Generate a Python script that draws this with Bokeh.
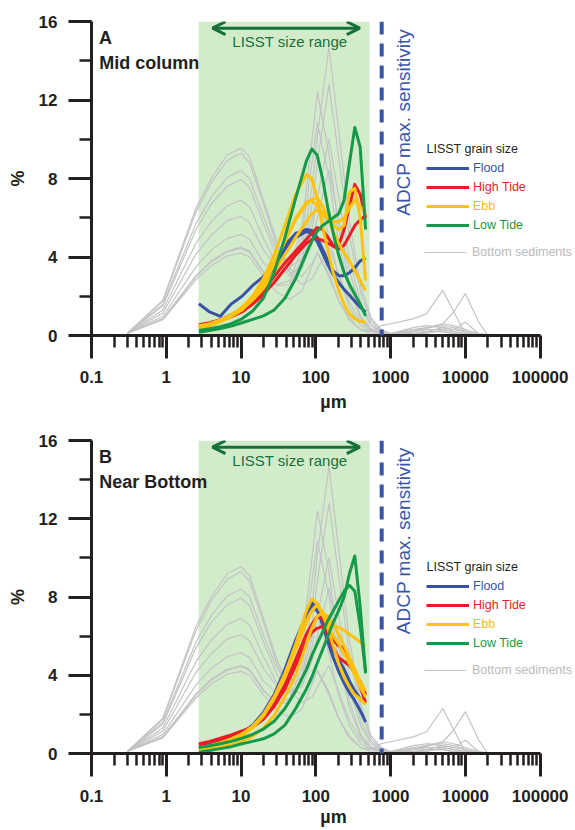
import math
from bokeh.plotting import figure
from bokeh.models import (Range1d, FixedTicker, SingleIntervalTicker, NumeralTickFormatter,
                          Legend, LegendItem, Label, Arrow, OpenHead, BoxAnnotation, Span)
from bokeh.layouts import column
from bokeh.embed import file_html
from bokeh.resources import INLINE

# ---------------- data ----------------
X_TICKS = [0.1, 1, 10, 100, 1000, 10000, 100000]
X_MINOR = [m * 10.0 ** e for e in range(-1, 5) for m in range(2, 10)]
LISST_MIN, LISST_MAX = 2.7, 525        # LISST size range (um)
ADCP_MAX = 760                          # ADCP max. sensitivity (um)

# bottom sediment grain size distributions (same in both panels)
GX = [0.3, 0.9, 2.5, 4, 6.5, 10, 13, 20, 30, 45, 65, 90, 105, 150, 200, 280, 400, 550,
      750, 1000, 2000, 3000, 5000, 7000, 10000, 15000, 20000, 30000]
SED = [
    [0.1, 1.8, 6.5, 8.0, 9.2, 9.55, 9.1, 6.9, 4.8, 3.4, 3.0, 3.7, 4.2, 3.0, 1.8, 0.8, 0.3, 0.2, 0.5, 0.6, 0.85, 1.1, 2.3, 1.2, 0.1, 0.02, 0.0, 0.0],
    [0.1, 1.75, 6.3, 7.8, 8.9, 9.3, 8.8, 6.7, 4.6, 3.2, 2.6, 2.9, 3.4, 4.5, 3.2, 1.7, 0.7, 0.25, 0.1, 0.1, 0.3, 0.4, 0.5, 0.4, 0.2, 0.05, 0.0, 0.0],
    [0.1, 1.6, 5.7, 7.05, 8.05, 8.4, 8.0, 6.05, 4.35, 3.5, 3.9, 6.0, 7.0, 5.1, 3.05, 1.45, 0.5, 0.2, 0.1, 0.1, 0.2, 0.35, 0.6, 1.2, 2.14, 0.7, 0.0, 0.0],
    [0.1, 1.5, 5.4, 6.7, 7.6, 7.95, 7.55, 5.7, 4.05, 3.2, 3.4, 4.8, 6.05, 8.45, 6.0, 3.3, 1.4, 0.5, 0.15, 0.1, 0.4, 0.5, 0.4, 0.3, 0.68, 0.1, 0.0, 0.0],
    [0.1, 1.3, 4.7, 5.8, 6.6, 6.9, 6.55, 4.95, 3.6, 3.05, 3.6, 5.5, 7.05, 10.0, 7.15, 3.95, 1.65, 0.6, 0.2, 0.05, 0.2, 0.3, 0.3, 0.2, 0.1, 0.0, 0.0, 0.0],
    [0.1, 1.15, 4.15, 5.1, 5.85, 6.07, 5.75, 4.35, 3.45, 3.4, 5.0, 8.95, 10.85, 8.05, 4.8, 2.35, 0.85, 0.3, 0.1, 0.05, 0.3, 0.2, 0.4, 0.3, 0.2, 0.0, 0.0, 0.0],
    [0.1, 0.98, 3.5, 4.35, 4.95, 5.15, 4.9, 3.7, 3.1, 3.35, 5.5, 10.15, 12.4, 9.25, 5.55, 2.7, 0.95, 0.35, 0.12, 0.05, 0.1, 0.2, 0.2, 0.1, 0.05, 0.0, 0.0, 0.0],
    [0.1, 0.86, 3.05, 3.8, 4.3, 4.5, 4.3, 3.25, 2.55, 2.6, 3.9, 6.75, 8.85, 12.8, 9.2, 5.1, 2.15, 0.75, 0.25, 0.1, 0.1, 0.1, 0.3, 0.2, 0.1, 0.05, 0.02, 0.0],
    [0.1, 0.85, 3.0, 3.75, 4.25, 4.45, 4.25, 3.2, 2.6, 2.8, 4.4, 7.7, 10.2, 14.7, 10.6, 5.85, 2.5, 0.9, 0.3, 0.1, 0.1, 0.2, 0.2, 0.1, 0.05, 0.02, 0.02, 0.02],
    [0.1, 0.8, 2.85, 3.55, 4.05, 4.2, 4.0, 3.0, 2.2, 1.85, 2.25, 3.6, 4.25, 3.15, 1.85, 0.9, 0.3, 0.1, 0.05, 0.05, 0.2, 0.4, 0.6, 0.5, 0.3, 0.1, 0.05, 0.05],
]

# LISST size bins (um)
LX = [2.73, 3.80, 5.29, 7.37, 10.3, 14.3, 19.9, 27.7, 38.6, 53.8, 74.9, 88.3, 104, 123,
      145, 171, 202, 239, 282, 332, 392, 463]

# Panel A: mid column
FLOOD_A = [
    [1.62, 1.2, 0.98, 1.6, 2.0, 2.55, 3.0, 3.65, 4.6, 5.2, 5.4, 5.35, 5.0, 4.4, 3.8, 3.3, 3.05, 3.05, 3.2, 3.45, 3.8, 3.95],
    [0.45, 0.6, 0.8, 1.05, 1.4, 1.9, 2.6, 3.5, 4.4, 5.0, 5.3, 5.2, 4.8, 4.2, 3.6, 3.1, 2.7, 2.35, 2.05, 1.75, 1.45, 1.2],
]
HIGH_A = [
    [0.55, 0.65, 0.8, 1.0, 1.3, 1.75, 2.3, 3.0, 3.7, 4.3, 4.9, 5.2, 5.5, 5.4, 5.0, 4.6, 4.6, 5.4, 6.6, 7.7, 7.2, 6.0],
    [0.5, 0.6, 0.75, 0.95, 1.2, 1.6, 2.1, 2.7, 3.4, 4.1, 4.7, 4.9, 4.95, 4.85, 4.7, 4.55, 4.4, 4.6, 5.1, 5.6, 5.9, 6.1],
]
EBB_A = [
    [0.4, 0.55, 0.75, 1.0, 1.4, 2.0, 2.9, 4.1, 5.6, 7.2, 8.2, 8.0, 7.0, 5.6, 4.3, 3.2, 2.3, 1.6, 1.1, 0.85, 0.72, 0.68],
    [0.35, 0.5, 0.7, 0.95, 1.3, 1.85, 2.6, 3.6, 4.8, 6.0, 6.8, 6.9, 6.6, 6.2, 5.9, 5.6, 5.4, 5.6, 7.3, 7.5, 6.0, 2.8],
    [0.5, 0.6, 0.8, 1.0, 1.35, 1.8, 2.4, 3.2, 4.1, 5.0, 5.8, 6.2, 6.4, 6.3, 6.0, 5.8, 5.8, 6.0, 6.5, 6.9, 6.6, 6.2],
    [0.45, 0.58, 0.78, 1.05, 1.45, 2.0, 2.75, 3.7, 4.8, 5.9, 6.7, 6.95, 7.0, 6.6, 6.0, 5.3, 4.7, 4.2, 3.8, 3.3, 2.8, 2.3],
]
LOW_A = [
    [0.25, 0.35, 0.45, 0.6, 0.85, 1.25, 1.9, 3.2, 5.0, 7.0, 8.9, 9.5, 9.2, 8.0, 6.5, 5.2, 4.1, 3.2, 2.6, 2.1, 1.6, 1.0],
    [0.17, 0.25, 0.35, 0.48, 0.65, 0.82, 1.0, 1.3, 1.9, 2.9, 4.2, 4.8, 5.3, 5.6, 5.8, 6.0, 6.2, 6.9, 8.8, 10.6, 9.6, 5.4],
]

# Panel B: near bottom
FLOOD_B = [
    [0.3, 0.4, 0.55, 0.75, 1.0, 1.4, 2.0, 2.9, 4.1, 5.6, 7.2, 7.7, 7.4, 6.6, 5.7, 4.9, 4.2, 3.6, 3.1, 2.7, 2.2, 1.6],
    [0.35, 0.45, 0.6, 0.8, 1.05, 1.45, 2.1, 3.0, 4.3, 5.8, 7.1, 7.5, 7.3, 6.8, 6.0, 5.3, 4.8, 4.3, 3.7, 3.2, 2.8, 2.6],
]
HIGH_B = [
    [0.5, 0.62, 0.78, 0.95, 1.15, 1.35, 1.8, 2.5, 3.5, 4.8, 6.1, 6.6, 7.0, 6.9, 6.4, 5.8, 5.5, 5.4, 4.8, 4.2, 3.4, 2.6],
    [0.45, 0.58, 0.72, 0.9, 1.1, 1.35, 1.75, 2.4, 3.3, 4.5, 5.7, 6.2, 6.4, 6.5, 6.1, 5.4, 4.9, 4.7, 4.5, 4.1, 3.7, 3.0],
]
EBB_B = [
    [0.2, 0.3, 0.45, 0.65, 0.9, 1.3, 1.9, 2.8, 4.0, 5.6, 7.3, 7.9, 7.7, 7.2, 6.4, 5.5, 4.6, 3.9, 3.4, 3.0, 2.8, 2.5],
    [0.3, 0.4, 0.55, 0.75, 1.0, 1.4, 2.0, 2.9, 4.1, 5.5, 6.8, 7.3, 7.6, 7.2, 6.7, 6.5, 6.45, 6.3, 6.1, 5.9, 5.7, 5.5],
    [0.25, 0.35, 0.5, 0.7, 0.95, 1.35, 1.95, 2.8, 3.9, 5.3, 6.7, 7.3, 7.6, 7.1, 6.5, 6.0, 5.6, 5.1, 4.6, 4.0, 3.4, 2.9],
    [0.15, 0.22, 0.32, 0.45, 0.62, 0.88, 1.3, 1.95, 2.9, 4.0, 5.6, 6.4, 7.0, 7.2, 7.0, 6.6, 6.1, 5.5, 4.9, 4.3, 3.7, 3.2],
]
LOW_B = [
    [0.07, 0.15, 0.25, 0.35, 0.5, 0.62, 0.75, 1.0, 1.45, 2.3, 3.3, 3.9, 4.6, 5.3, 6.0, 6.7, 7.3, 8.0, 9.2, 10.1, 7.5, 4.1],
    [0.3, 0.4, 0.5, 0.62, 0.78, 0.98, 1.25, 1.65, 2.3, 3.2, 4.3, 5.0, 5.6, 6.2, 6.8, 7.3, 7.8, 8.3, 8.6, 8.3, 6.5, 4.2],
]

SERIES_NAMES = ["Flood", "High Tide", "Ebb", "Low Tide"]
SERIES_COLORS = ["#3953a4", "#ed1c24", "#ffc20e", "#169a4a"]
LABEL_COLORS = ["#3953a4", "#ed1c24", "#f9b915", "#169a4a"]
GRAY = "#c2c3c5"
INK = "#231f20"
FONT = "Liberation Sans"
BOX_GREEN = "#d2eccb"
ARROW_GREEN = "#17703c"
ADCP_BLUE = "#3a55a6"


def make_panel(letter, name, groups, height, top, bottom, lab_standoff, axlab_standoff):
    p = figure(width=575, height=height, x_axis_type="log",
               x_range=Range1d(0.1, 2.97e5), y_range=Range1d(0, 16),
               output_backend="svg", toolbar_location=None,
               min_border_left=91, min_border_right=0,
               min_border_top=top, min_border_bottom=bottom,
               x_axis_label="µm", y_axis_label="%")
    p.outline_line_color = None
    p.xgrid.visible = False
    p.ygrid.visible = False

    p.add_layout(BoxAnnotation(left=LISST_MIN, right=LISST_MAX, bottom=0, top=16,
                               fill_color=BOX_GREEN, fill_alpha=1, line_color=None,
                               level="underlay"))

    # axes
    xa, ya = p.xaxis[0], p.yaxis[0]
    xa.ticker = FixedTicker(ticks=X_TICKS, minor_ticks=X_MINOR)
    xa.formatter = NumeralTickFormatter(format="0.[0]")
    xa.bounds = (0.1, 100000)
    ya.ticker = SingleIntervalTicker(interval=4, num_minor_ticks=2)
    ya.bounds = (0, 16)
    for ax in (xa, ya):
        ax.axis_line_width = 3
        ax.axis_line_color = INK
        ax.major_tick_line_width = 3
        ax.major_tick_line_color = INK
        ax.minor_tick_line_width = 2.5
        ax.minor_tick_line_color = INK
        ax.major_tick_in = 0
        ax.major_tick_out = 23
        ax.minor_tick_in = 0
        ax.minor_tick_out = 12
        ax.major_label_text_font = FONT
        ax.major_label_text_font_style = "bold"
        ax.major_label_text_font_size = "17px"
        ax.major_label_text_color = INK
        ax.axis_label_text_font = FONT
        ax.axis_label_text_font_style = "bold"
        ax.axis_label_text_font_size = "18px"
        ax.axis_label_text_color = INK
    xa.major_label_standoff = lab_standoff
    xa.axis_label_standoff = axlab_standoff
    ya.major_label_standoff = 11
    ya.axis_label_standoff = 8

    # bottom sediments
    gray_r = None
    for ys in SED:
        r = p.line(GX, ys, line_color=GRAY, line_width=1.2)
        gray_r = gray_r or r

    # LISST curves
    first = []
    for curves, col in zip(groups, SERIES_COLORS):
        rr = None
        for ys in curves:
            r = p.line(LX, ys, line_color=col, line_width=3, line_join="round")
            rr = rr or r
        first.append(rr)

    # ADCP line + text
    p.add_layout(Span(location=ADCP_MAX, dimension="height", line_color=ADCP_BLUE,
                      line_width=4, line_dash="13 9"))
    p.add_layout(Label(x=1500, y=6.1, text="ADCP max. sensitivity", angle=math.pi / 2,
                       text_align="left", text_baseline="alphabetic",
                       text_font=FONT, text_font_size="19px", text_color=ADCP_BLUE))

    # LISST size range arrow
    p.add_layout(Arrow(x_start=4.15, y_start=15.66, x_end=387, y_end=15.66,
                       line_color=ARROW_GREEN, line_width=3,
                       start=OpenHead(size=13, line_width=3, line_color=ARROW_GREEN),
                       end=OpenHead(size=13, line_width=3, line_color=ARROW_GREEN)))
    p.add_layout(Label(x=44.9, y=15.0, text="LISST size range", text_align="center",
                       text_baseline="middle", text_font=FONT, text_font_size="15px",
                       text_color=ARROW_GREEN))

    # panel titles
    p.add_layout(Label(x=0.1255, y=15.17, text=letter, text_baseline="middle",
                       text_font=FONT, text_font_style="bold", text_font_size="18px",
                       text_color=INK))
    p.add_layout(Label(x=0.1265, y=13.87, text=name, text_baseline="middle",
                       text_font=FONT, text_font_style="bold", text_font_size="18px",
                       text_color=INK))

    # legend
    p.add_layout(Label(x=335, y=187, x_units="screen", y_units="screen",
                       text="LISST grain size", text_baseline="middle",
                       text_font=FONT, text_font_size="12.5px", text_color=INK))
    ypos = [159, 140, 121, 102]
    for nm, lc, r, yy in zip(SERIES_NAMES, LABEL_COLORS, first, ypos):
        leg = Legend(items=[LegendItem(label=nm, renderers=[r])], location=(335, yy),
                     padding=0, margin=0, spacing=0, glyph_width=43, glyph_height=16,
                     label_height=16, label_standoff=4, label_text_font=FONT,
                     label_text_font_size="12.5px", label_text_color=lc,
                     border_line_color=None, background_fill_alpha=0)
        p.add_layout(leg)
    leg = Legend(items=[LegendItem(label="Bottom sediments", renderers=[gray_r])],
                 location=(333, 75), padding=0, margin=0, spacing=0, glyph_width=42,
                 glyph_height=16, label_height=16, label_standoff=6,
                 label_text_font=FONT, label_text_font_size="12.5px",
                 label_text_color="#b9babc", border_line_color=None,
                 background_fill_alpha=0)
    p.add_layout(leg)
    return p


pa = make_panel("A", "Mid column", [FLOOD_A, HIGH_A, EBB_A, LOW_A],
                height=415, top=21, bottom=80, lab_standoff=12, axlab_standoff=6)
pb = make_panel("B", "Near Bottom", [FLOOD_B, HIGH_B, EBB_B, LOW_B],
                height=414, top=25, bottom=76, lab_standoff=13, axlab_standoff=2)

layout = column(pa, pb, spacing=0)
open("out.html", "w").write(file_html(layout, INLINE))
